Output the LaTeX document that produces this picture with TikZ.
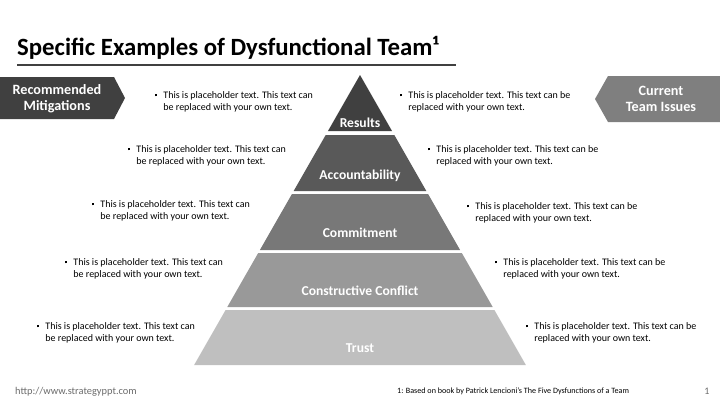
\documentclass[tikz,border=0pt]{standalone}
\usepackage{fontspec}
\setmainfont{Carlito}
\usetikzlibrary{positioning}
\definecolor{tierA}{HTML}{404040}
\definecolor{tierB}{HTML}{595959}
\definecolor{tierC}{HTML}{787878}
\definecolor{tierD}{HTML}{999999}
\definecolor{tierE}{HTML}{BFBFBF}
\definecolor{issuegray}{HTML}{7F7F7F}
\definecolor{footgray}{HTML}{6B6B6B}
\tikzset{
  tierlab/.style={anchor=base, text=white, inner sep=0pt,
                  font=\fontsize{13.6}{15}\selectfont\bfseries},
  bannerlab/.style={align=center, text=white, inner sep=0pt,
                    font=\fontsize{14.2}{16}\selectfont\bfseries},
  note/.style={anchor=west, align=left, inner sep=0pt,
               font=\fontsize{10}{12}\selectfont},
}
\newcommand{\bulletnote}[2]{%
  \begin{tabular}{@{}l@{\hspace{6pt}}l@{}}\raisebox{2pt}{\rule{2.2pt}{2.2pt}} & #1\\ & #2\end{tabular}}

\begin{document}
\begin{tikzpicture}[x=1pt, y=-1pt]
\useasboundingbox (0,0) rectangle (720,405);
% title
\node[anchor=base west, inner sep=0pt, font=\fontsize{24.8}{27}\selectfont\bfseries]
  (title) at (17,55) {Specific Examples of Dysfunctional Team¹};
\draw[tierA, line width=2.2pt] (17,65) -- (456,65);
% banners
\fill[tierA] (0,77) -- (114,77) -- (125,98) -- (114,119) -- (0,119) -- cycle;
\node[bannerlab] (mitig) at (57,99) {Recommended\\Mitigations};
\fill[issuegray] (608,76) -- (720,76) -- (720,122) -- (608,122) -- (595,99) -- cycle;
\node[bannerlab] (issues) at (661,99) {Current\\Team Issues};
% pyramid
\foreach \t/\b/\c/\ly/\lab/\n in {75/131/tierA/127/Results/results,
    135/191/tierB/179/Accountability/account,
    194/250/tierC/237/Commitment/commit,
    253/307/tierD/295/Constructive Conflict/conflict,
    310/365/tierE/352/Trust/trust} {
  \pgfmathsetmacro\wt{0.572*(\t-75)}
  \pgfmathsetmacro\wb{0.572*(\b-75)}
  \fill[\c] (360-\wt,\t) -- (360+\wt,\t) -- (360+\wb,\b) -- (360-\wb,\b) -- cycle;
  \node[tierlab] (\n) at (360,\ly) {\lab};
}
% mitigations (left)
\foreach \x/\y/\n in {155/102/mA, 128/156/mB, 92/211/mC, 65/269/mD, 37/333/mE} {
  \node[note] (\n) at (\x,\y)
    {\bulletnote{This is placeholder text. This text can}{be replaced with your own text.}};
}
% issues (right)
\foreach \x/\y/\n in {400/102/iA, 428/156/iB, 467/213/iC, 495/269/iD, 526/333/iE} {
  \node[note] (\n) at (\x,\y)
    {\bulletnote{This is placeholder text. This text can be}{replaced with your own text.}};
}
% footer
\node[anchor=base west, inner sep=0pt, text=footgray, font=\fontsize{10.4}{12}\selectfont]
  (url) at (15,394) {http://www.strategyppt.com};
\node[anchor=base west, inner sep=0pt, font=\fontsize{8.1}{10}\selectfont]
  (source) at (397,393) {1: Based on book by Patrick Lencioni's The Five Dysfunctions of a Team};
\node[anchor=base, inner sep=0pt, text=footgray, font=\fontsize{10}{12}\selectfont]
  (pagenum) at (707,394) {1};
\end{tikzpicture}
\end{document}
